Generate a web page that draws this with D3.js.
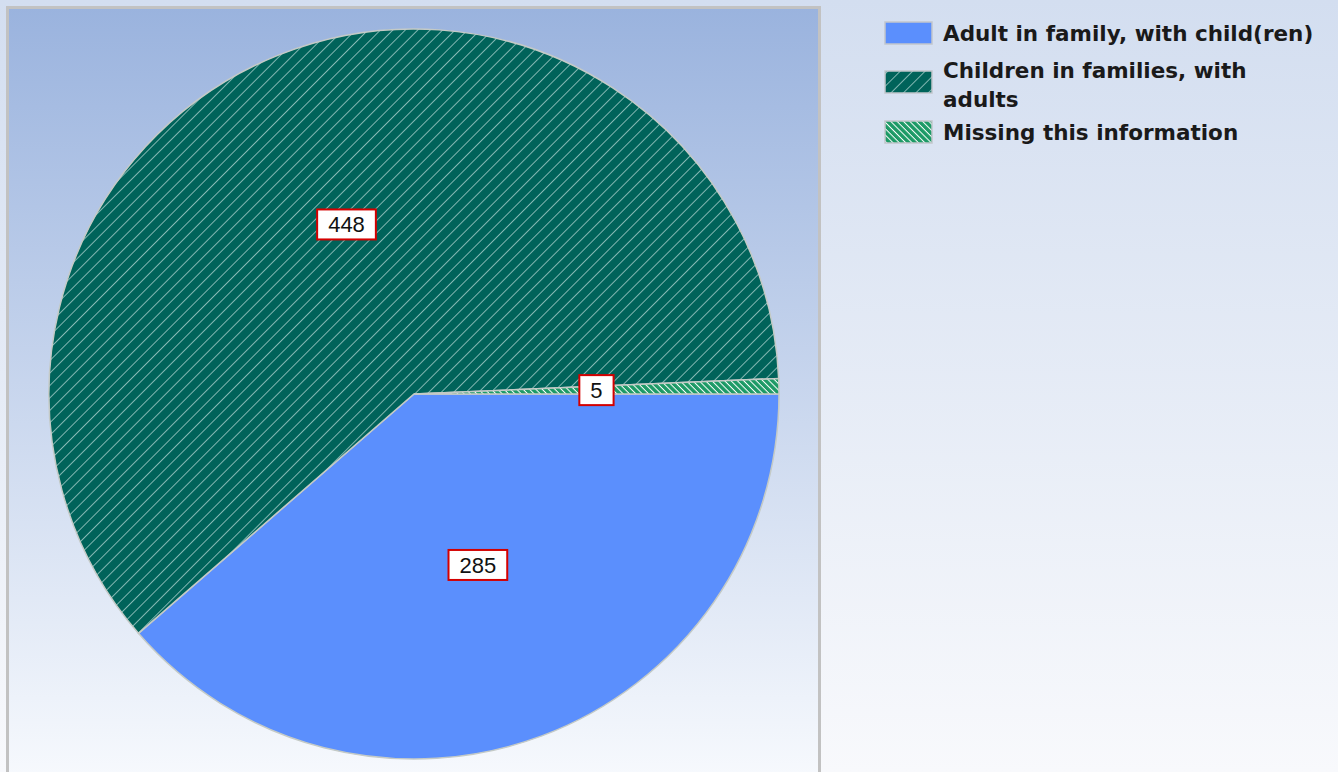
<!DOCTYPE html>
<html>
<head>
<meta charset="UTF-8">
<title>Family status pie</title>
<script src="https://d3js.org/d3.v7.min.js"></script>
<style>
    body {
        margin: 0;
        background: linear-gradient(#d3def0, #f8f9fc);
        width: 1338px;
        height: 772px;
        overflow: hidden;
    }
</style>
</head>
<body>
<script>
    // chart data
    const categories = ["Adult in family, with child(ren)", "Children in families, with adults", "Missing this information"];
    const legendLines = [["Adult in family, with child(ren)"], ["Children in families, with", "adults"], ["Missing this information"]];
    const counts = [285, 448, 5];

    const width = 1338, height = 772;
    const cx = 414, cy = 394, radius = 365;

    const svg = d3.select("body").append("svg")
        .attr("width", width).attr("height", height);

    const defs = svg.append("defs");

    // plot area background gradient
    const grad = defs.append("linearGradient").attr("id", "plotbg")
        .attr("x1", 0).attr("y1", 0).attr("x2", 0).attr("y2", 1);
    grad.append("stop").attr("offset", "0%").attr("stop-color", "#9ab3de");
    grad.append("stop").attr("offset", "100%").attr("stop-color", "#f9fbfe");

    // hatch patterns
    const p1 = defs.append("pattern").attr("id", "hatchDark")
        .attr("patternUnits", "userSpaceOnUse")
        .attr("width", 8.8).attr("height", 8.8)
        .attr("patternTransform", "rotate(-45)");
    p1.append("rect").attr("width", 8.8).attr("height", 8.8).attr("fill", "#00635a");
    p1.append("line").attr("x1", 0).attr("y1", 0).attr("x2", 8.8).attr("y2", 0)
        .attr("stroke", "#a2cbc7").attr("stroke-width", 1.6);

    const p2 = defs.append("pattern").attr("id", "hatchLight")
        .attr("patternUnits", "userSpaceOnUse")
        .attr("width", 4.5).attr("height", 4.5)
        .attr("patternTransform", "rotate(45)");
    p2.append("rect").attr("width", 4.5).attr("height", 4.5).attr("fill", "#1d9a66");
    p2.append("line").attr("x1", 0).attr("y1", 0).attr("x2", 4.5).attr("y2", 0)
        .attr("stroke", "#ffffff").attr("stroke-width", 2);

    const fills = ["#5b8ffd", "url(#hatchDark)", "url(#hatchLight)"];
    const color = d3.scaleOrdinal().domain(categories).range(fills);

    // plot area
    svg.append("rect")
        .attr("x", 7.5).attr("y", 7.5)
        .attr("width", 812).attr("height", 790)
        .attr("fill", "url(#plotbg)")
        .attr("stroke", "#c2c2c2").attr("stroke-width", 3);

    const pie = d3.pie().sort(null).value(d => d.value)
        .startAngle(Math.PI / 2).endAngle(Math.PI / 2 + 2 * Math.PI);
    const arc = d3.arc().innerRadius(0).outerRadius(radius);

    const data = categories.map((c, i) => ({ name: c, value: counts[i] }));
    const arcs = pie(data);

    const g = svg.append("g").attr("transform", `translate(${cx},${cy})`);
    g.selectAll("path.slice").data(arcs).join("path")
        .attr("class", "slice")
        .attr("d", arc)
        .attr("fill", d => color(d.data.name))
        .attr("stroke", "#c4cac6")
        .attr("stroke-width", 1.5);

    // value labels
    const labels = g.selectAll("g.lab").data(arcs).join("g")
        .attr("class", "lab")
        .attr("transform", d => `translate(${arc.centroid(d)})`);
    labels.each(function (d) {
        const sel = d3.select(this);
        const t = sel.append("text")
            .attr("text-anchor", "middle")
            .attr("dy", "0.36em")
            .style("font-family", "'Liberation Sans', Arial, sans-serif")
            .style("font-size", "22px")
            .attr("fill", "#111")
            .text(d.data.value);
        const w = t.node().getComputedTextLength();
        sel.insert("rect", "text")
            .attr("x", -w / 2 - 11).attr("y", -15)
            .attr("width", w + 22).attr("height", 30)
            .attr("fill", "#fff")
            .attr("stroke", "#d40000").attr("stroke-width", 2);
    });

    // legend
    const legendY = [22, 71, 121];
    const legendBase = [[41], [78], [140]];
    const legend = svg.append("g");
    categories.forEach((c, i) => {
        legend.append("rect")
            .attr("x", 885).attr("y", legendY[i])
            .attr("width", 47).attr("height", 22)
            .attr("fill", color(c))
            .attr("stroke", "#c2c6cc").attr("stroke-width", 1.5);
        legendLines[i].forEach((line, j) => {
            legend.append("text")
                .attr("x", 943).attr("y", legendBase[i][0] + j * 29)
                .style("font-family", "'DejaVu Sans', Verdana, sans-serif")
                .style("font-size", "21.5px")
                .style("font-weight", "bold")
                .attr("fill", "#1a1a1a")
                .text(line);
        });
    });
</script>
</body>
</html>
